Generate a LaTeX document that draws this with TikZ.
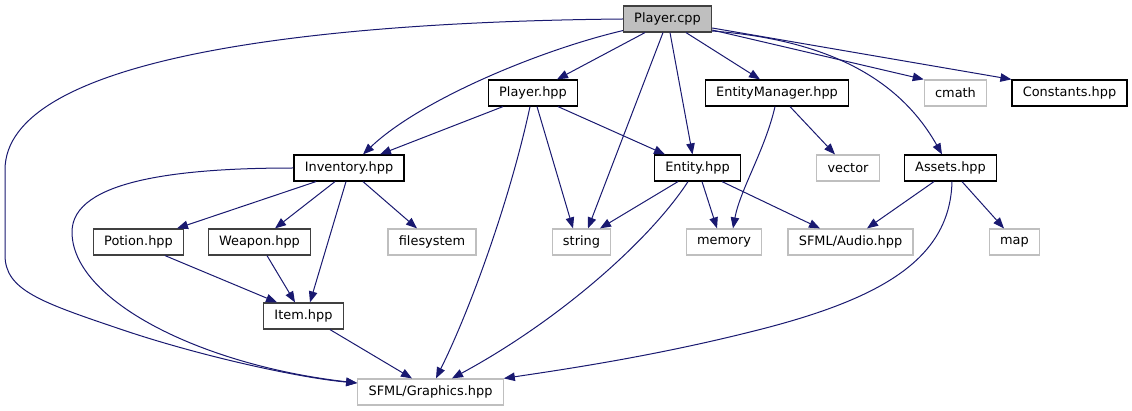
\documentclass[tikz,border=0pt]{standalone}
\usepackage{fontspec}
\setmainfont{DejaVu Sans}
\usetikzlibrary{arrows.meta}
\definecolor{edgeblue}{HTML}{191970}
\definecolor{extgray}{HTML}{BFBFBF}
\definecolor{rootgray}{HTML}{BFBFBF}
\definecolor{dkgray}{HTML}{404040}

\tikzset{
  hdrbox/.style={draw=black, fill=white, line width=1.2pt, minimum height=26pt,
    inner xsep=10.8pt, inner ysep=0pt, font=\fontsize{12.9}{15}\selectfont},
  dimbox/.style={hdrbox, draw=dkgray},
  rootbox/.style={hdrbox, draw=dkgray, fill=rootgray},
  sysbox/.style={hdrbox, draw=extgray},
  dep/.style={edgeblue, line width=1pt, ->}
}

\begin{document}
\begin{tikzpicture}[x=1pt, y=-1pt, >={Triangle[length=11pt, width=8.5pt]}]
\useasboundingbox (0,0) rectangle (1132,411);

% ============================================================
% Row 1: the source file
% ============================================================
\node[rootbox] (cpp) at (667.5,19) {Player.cpp};

% ============================================================
% Row 2
% ============================================================
\node[hdrbox] (phpp) at (533,93) {Player.hpp};
\node[hdrbox] (emgr) at (777,93) {EntityManager.hpp};
\node[sysbox] (cmath) at (955.5,93) {cmath};
\node[hdrbox] (const) at (1069.5,93) {Constants.hpp};

% ============================================================
% Row 3
% ============================================================
\node[hdrbox] (inv) at (349,168) {Inventory.hpp};
\node[hdrbox] (ent) at (697.5,168) {Entity.hpp};
\node[sysbox] (vector) at (848,168) {vector};
\node[hdrbox] (assets) at (950.5,168) {Assets.hpp};

% ============================================================
% Row 4
% ============================================================
\node[dimbox] (potion) at (138.5,242) {Potion.hpp};
\node[dimbox] (weapon) at (259.5,242) {Weapon.hpp};
\node[sysbox] (fs) at (432,242) {filesystem};
\node[sysbox] (string) at (581.5,242) {string};
\node[sysbox] (memory) at (724,242) {memory};
\node[sysbox] (audio) at (850.5,242) {SFML/Audio.hpp};
\node[sysbox] (map) at (1014.5,242) {map};

% ============================================================
% Rows 5 and 6
% ============================================================
\node[dimbox] (item) at (303.5,316) {Item.hpp};
\node[sysbox] (gfx) at (430.5,392) {SFML/Graphics.hpp};

% ------------------------------------------------------------
% Includes of Player.cpp
% ------------------------------------------------------------
% long way round the left side
\draw[dep] (cpp.west) .. controls (300,22) and (5,60) .. (5,170) -- (5,255)
  .. controls (5,290) and (40,302) .. (123,330)
  .. controls (200,356) and (300,378) .. ([yshift=9pt]gfx.west);
\draw[dep] ([yshift=2pt]cpp.south west) .. controls (540,50) and (420,100) .. ([xshift=14pt]inv.north);
\draw[dep] ([xshift=-22.5pt]cpp.south) -- ([xshift=24pt]phpp.north);
\draw[dep] ([xshift=-4.5pt]cpp.south) -- ([xshift=6.5pt]string.north);
\draw[dep] ([xshift=2.5pt]cpp.south) -- ([xshift=-5pt]ent.north);
\draw[dep] ([xshift=18.5pt]cpp.south) -- ([xshift=-17pt]emgr.north);
\draw[dep] ([yshift=-11pt]cpp.east) -- (cmath.north west);
\draw[dep] ([yshift=-9pt]cpp.east) -- (const.north west);
\draw[dep] ([yshift=-12pt]cpp.east) .. controls (830,40) and (900,80) .. ([xshift=-8.5pt]assets.north);

% ------------------------------------------------------------
% Includes of Player.hpp and EntityManager.hpp
% ------------------------------------------------------------
\draw[dep] ([xshift=-30pt]phpp.south) -- ([xshift=31pt]inv.north);
\draw[dep] ([xshift=25pt]phpp.south) -- ([xshift=-32.5pt]ent.north);
\draw[dep] ([xshift=4pt]phpp.south) -- ([xshift=-8.5pt]string.north);
\draw[dep] ([xshift=-3pt]phpp.south) .. controls (510,200) and (470,310) .. ([xshift=5.5pt]gfx.north);

\draw[dep] ([xshift=13pt]emgr.south) -- ([xshift=-13pt]vector.north);
\draw[dep] ([xshift=-2pt]emgr.south) .. controls (765,150) and (740,190) .. ([xshift=9pt]memory.north);

% ------------------------------------------------------------
% Includes of Inventory.hpp
% ------------------------------------------------------------
\draw[dep] (inv.west) .. controls (180,168) and (72,180) .. (72,232)
  .. controls (72,300) and (200,365) .. ([yshift=9pt]gfx.west);
\draw[dep] ([xshift=-33pt]inv.south) -- ([xshift=38.5pt]potion.north);
\draw[dep] ([xshift=-14pt]inv.south) -- ([xshift=15.5pt]weapon.north);
\draw[dep] ([xshift=-3pt]inv.south) -- ([xshift=6.5pt]item.north);
\draw[dep] ([xshift=14pt]inv.south) -- ([xshift=-15pt]fs.north);

% ------------------------------------------------------------
% Includes of Entity.hpp and Assets.hpp
% ------------------------------------------------------------
\draw[dep] ([xshift=-19.5pt]ent.south) -- ([xshift=18.5pt]string.north);
\draw[dep] ([xshift=-9.5pt]ent.south) .. controls (650,240) and (560,320) .. ([xshift=21.5pt]gfx.north);
\draw[dep] ([xshift=4.5pt]ent.south) -- ([xshift=-7pt]memory.north);
\draw[dep] ([xshift=24.5pt]ent.south) -- ([xshift=-30.5pt]audio.north);

\draw[dep] ([xshift=-16.5pt]assets.south) -- ([xshift=16.5pt]audio.north);
\draw[dep] ([xshift=11.5pt]assets.south) -- ([xshift=-10.5pt]map.north);
\draw[dep] ([xshift=1.5pt]assets.south) .. controls (950,260) and (880,300) .. (750,332)
  .. controls (650,357) and (560,370) .. (gfx.north east);

% ------------------------------------------------------------
% Item headers
% ------------------------------------------------------------
\draw[dep] ([xshift=26.5pt]potion.south) -- ([xshift=-26.5pt]item.north);
\draw[dep] ([xshift=7.5pt]weapon.south) -- ([xshift=-8.5pt]item.north);
\draw[dep] ([xshift=26.5pt]item.south) -- ([xshift=-18.5pt]gfx.north);

\end{tikzpicture}
\end{document}
